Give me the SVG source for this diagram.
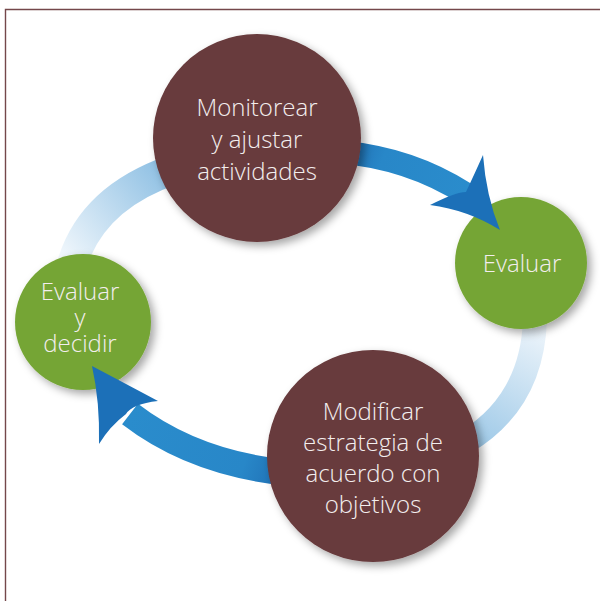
<svg xmlns="http://www.w3.org/2000/svg" width="600" height="601" viewBox="0 0 600 601">
<defs>
<filter id="sh" x="-30%" y="-30%" width="160%" height="160%">
<feDropShadow dx="4" dy="4" stdDeviation="4" flood-color="#000" flood-opacity="0.35"/>
</filter>
<linearGradient id="gUL" gradientUnits="userSpaceOnUse" x1="60" y1="262" x2="170" y2="172">
<stop offset="0" stop-color="#f4f9fd"/>
<stop offset="1" stop-color="#8dbfe3"/>
</linearGradient>
<linearGradient id="gLR" gradientUnits="userSpaceOnUse" x1="540" y1="325" x2="470" y2="445">
<stop offset="0" stop-color="#eef5fb"/>
<stop offset="1" stop-color="#9cc8e7"/>
</linearGradient>
<linearGradient id="gTop" gradientUnits="userSpaceOnUse" x1="345" y1="150" x2="465" y2="195">
<stop offset="0" stop-color="#1f70b5"/>
<stop offset="0.3" stop-color="#2887c8"/>
<stop offset="1" stop-color="#2a8ccc"/>
</linearGradient>
<linearGradient id="gBot" gradientUnits="userSpaceOnUse" x1="285" y1="472" x2="130" y2="415">
<stop offset="0" stop-color="#1f70b5"/>
<stop offset="0.25" stop-color="#2887c8"/>
<stop offset="1" stop-color="#2a8ccc"/>
</linearGradient>
</defs>
<style>
.maroon{fill:#673a3c;filter:url(#sh)}
.green{fill:#75a535;filter:url(#sh)}
.lbl{font-family:"Open Sans","Noto Sans","DejaVu Sans",sans-serif;font-weight:300;font-size:24px;fill:#f3eeee;text-anchor:middle}
.head{fill:#1c70b8}
</style>
<rect x="0" y="0" width="600" height="601" fill="#ffffff"/>
<path d="M5.5 601 V9.5 H600" fill="none" stroke="#74474a" stroke-width="1.4"/>
<g id="connectors-back">
<path d="M72 264 Q92 198 172 170" fill="none" stroke="url(#gUL)" stroke-width="30"/>
<path d="M535 320 Q532 402 466 442" fill="none" stroke="url(#gLR)" stroke-width="24"/>
</g>
<g id="node-evaluar">
<circle class="green" cx="521" cy="263" r="66"/>
<text class="lbl" x="522" y="272">Evaluar</text>
</g>
<g id="node-evaluar-decidir">
<circle class="green" cx="83" cy="322" r="68"/>
<text class="lbl" x="80" y="300">Evaluar</text>
<text class="lbl" x="80" y="326">y</text>
<text class="lbl" x="80" y="352">decidir</text>
</g>
<g id="connectors">
<path d="M340 152 Q410 158 466 194" fill="none" stroke="url(#gTop)" stroke-width="23"/>
<path class="head" d="M483 155 Q486 196 500 230 Q468 210 430 205 Q456 192 466 192 Q474 175 483 155 Z"/>
<path d="M290 473 Q195 464 130 414" fill="none" stroke="url(#gBot)" stroke-width="26"/>
<path class="head" d="M92 366 Q128 385 158 401 Q132 404 126 414 Q110 426 99 444 Q100 402 92 366 Z"/>
</g>
<g id="node-monitorear">
<circle class="maroon" cx="257" cy="138" r="104"/>
<text class="lbl" x="257" y="116">Monitorear</text>
<text class="lbl" x="257" y="148">y ajustar</text>
<text class="lbl" x="257" y="180">actividades</text>
</g>
<g id="node-modificar">
<circle class="maroon" cx="373" cy="456" r="106"/>
<text class="lbl" x="373" y="420">Modificar</text>
<text class="lbl" x="373" y="451">estrategia de</text>
<text class="lbl" x="373" y="482">acuerdo con</text>
<text class="lbl" x="373" y="513">objetivos</text>
</g>
</svg>
